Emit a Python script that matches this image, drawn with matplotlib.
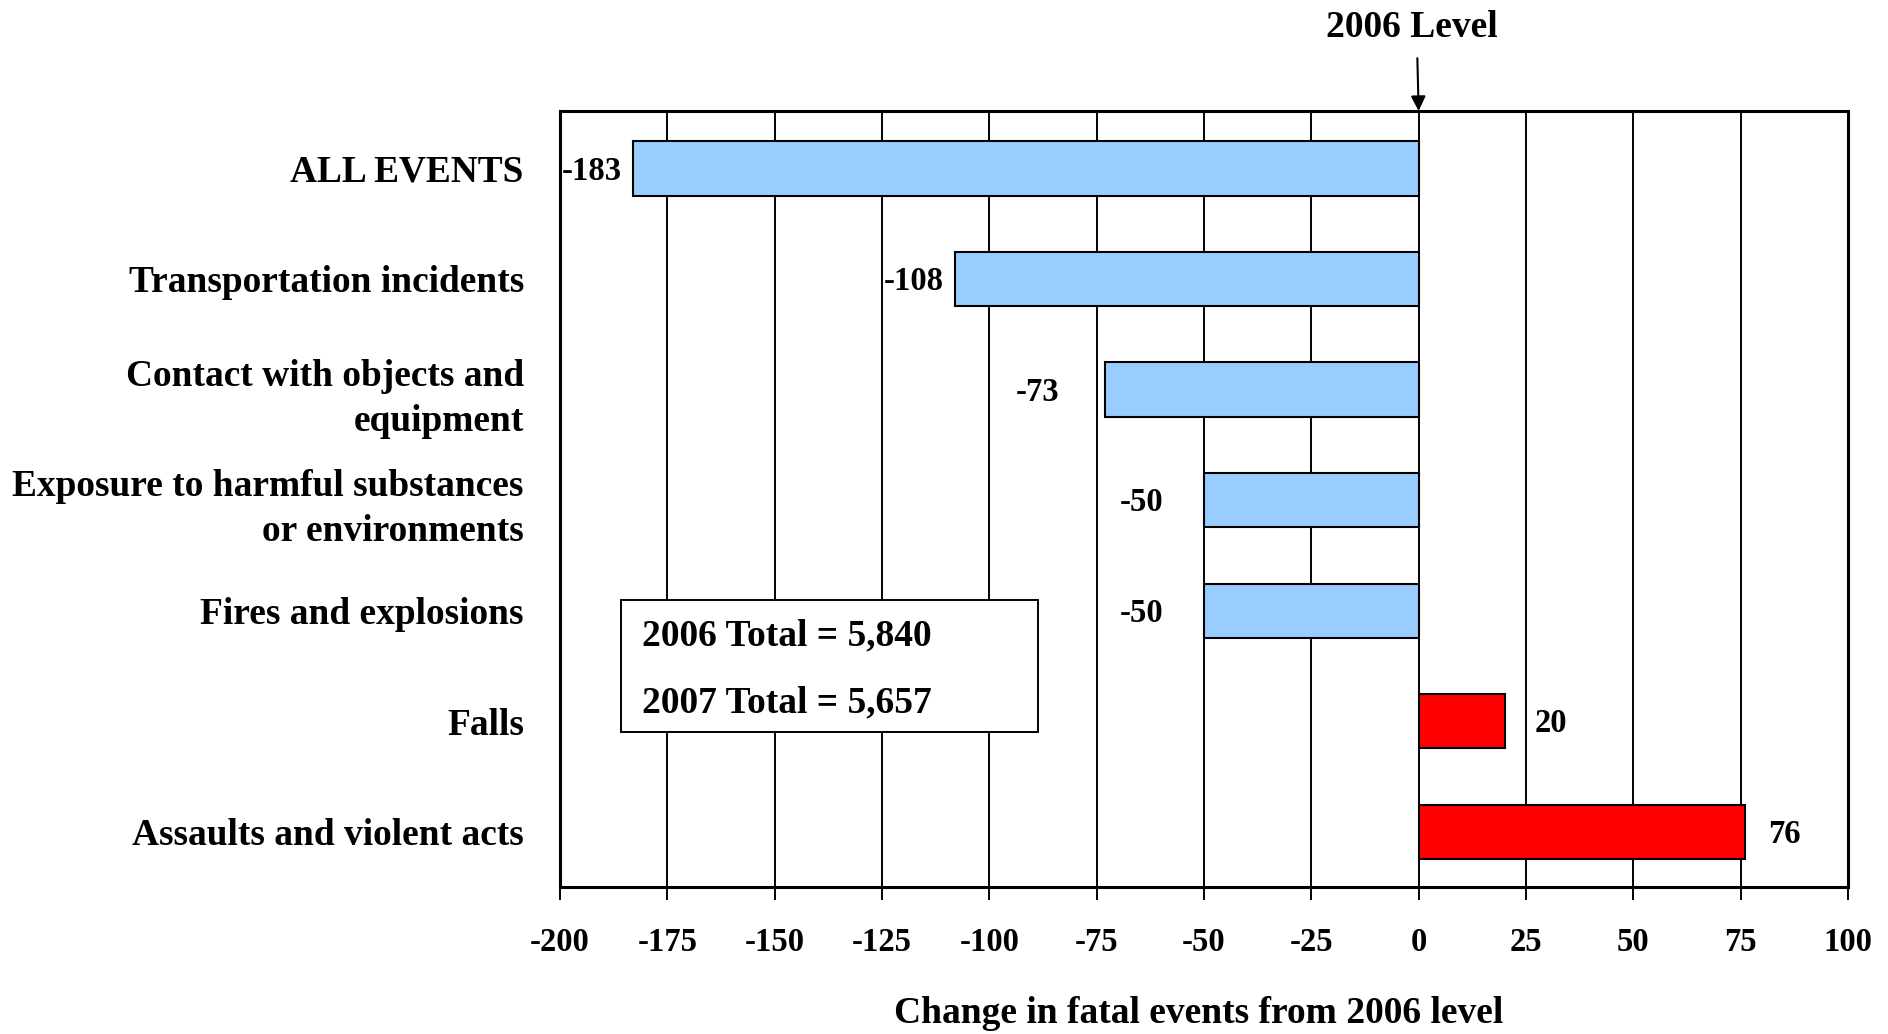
import matplotlib.pyplot as plt
from matplotlib.patches import Rectangle

plt.rcParams['font.family'] = 'Liberation Serif'
plt.rcParams['font.weight'] = 'bold'

categories = ["ALL EVENTS", "Transportation incidents",
              "Contact with objects and\nequipment",
              "Exposure to harmful substances\nor environments",
              "Fires and explosions", "Falls", "Assaults and violent acts"]
changes = [-183, -108, -73, -50, -50, 20, 76]
xticks = [-200, -175, -150, -125, -100, -75, -50, -25, 0, 25, 50, 75, 100]
totals = ["2006 Total = 5,840", "2007 Total = 5,657"]

# label offsets (points) from bar end, as in the original layout
label_dx = [-8, -8, -33, -29, -29, 22, 17]

fig = plt.figure(figsize=(18.88, 10.34), dpi=100)
ax = fig.add_axes([0.2966, 0.1422, 0.6822, 0.7505])

ypos = list(range(len(categories)))
colors = ['#99CCFF' if v < 0 else '#FF0000' for v in changes]
ax.barh(ypos, changes, height=0.49, color=colors, edgecolor='black',
        linewidth=1.5, zorder=3)

for y, v, dx in zip(ypos, changes, label_dx):
    ax.annotate(str(v), xy=(v, y), xytext=(dx, -2), textcoords='offset points',
                ha='right' if v < 0 else 'left', va='center',
                fontsize=23.5, fontweight='bold', zorder=5)

ax.set_xlim(-200, 100)
ax.set_ylim(6.5, -0.52)
ax.set_xticks(xticks)
ax.set_xticklabels([str(t) for t in xticks], fontsize=23.5, fontweight='bold')
ax.set_yticks(ypos)
ax.set_yticklabels(categories, fontsize=26.9, fontweight='bold',
                   linespacing=1.38)
ax.tick_params(axis='y', length=0, pad=26)
ax.tick_params(axis='x', direction='out', length=9, width=1.4, pad=20)
ax.grid(axis='x', color='black', linewidth=1.4, zorder=0)
ax.set_axisbelow(True)
for s in ax.spines.values():
    s.set_linewidth(2.2)

ax.set_xlabel("Change in fatal events from 2006 level", fontsize=27,
              fontweight='bold')
ax.xaxis.set_label_coords(0.4955, -0.163)
ax.xaxis.label.set_va('center')

# 2006 level marker
ax.text(-1.5, 1.107, "2006 Level", transform=ax.get_xaxis_transform(),
        ha='center', va='center', fontsize=27, fontweight='bold')
ax.annotate('', xy=(0, 1.0), xytext=(-0.3, 1.068),
            xycoords=ax.get_xaxis_transform(),
            textcoords=ax.get_xaxis_transform(),
            arrowprops=dict(arrowstyle='-|>', color='black', lw=1.5,
                            mutation_scale=22, shrinkA=0, shrinkB=0))

# totals box
ax.add_patch(Rectangle((0.0474, 0.1997), 0.3237, 0.170, transform=ax.transAxes,
                       facecolor='white', edgecolor='black', linewidth=1.4,
                       zorder=4))
ax.text(0.0637, 0.323, totals[0], transform=ax.transAxes, ha='left',
        va='center', fontsize=27, fontweight='bold', zorder=5)
ax.text(0.0637, 0.2367, totals[1], transform=ax.transAxes, ha='left',
        va='center', fontsize=27, fontweight='bold', zorder=5)

fig.savefig('out.png', dpi=100)
